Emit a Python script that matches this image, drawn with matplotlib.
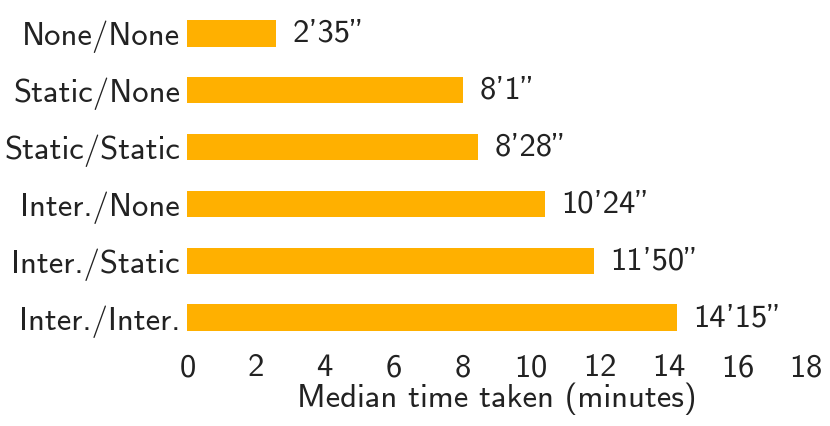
import matplotlib
matplotlib.use('Agg')
import matplotlib.pyplot as plt

categories = ['None/None', 'Static/None', 'Static/Static',
              'Inter./None', 'Inter./Static', 'Inter./Inter.']
minutes = [2, 8, 8, 10, 11, 14]
seconds = [35, 1, 28, 24, 50, 15]
x_ticks = [0, 2, 4, 6, 8, 10, 12, 14, 16, 18]

values = [m + s / 60 for m, s in zip(minutes, seconds)]
labels = [f"{m}'{s}\"" for m, s in zip(minutes, seconds)]

plt.rcParams['font.family'] = ['cmss10', 'DejaVu Sans']
plt.rcParams['axes.formatter.use_mathtext'] = True
text_color = '#222222'
fs = 23.5

fig = plt.figure(figsize=(8.3, 4.26), dpi=100)
ax = fig.add_axes([0.2253, 0.187, 0.7457, 0.802])

ypos = list(range(len(categories)))
bars = ax.barh(ypos, values, height=0.47, color='#FFB000')
for y, v, lab in zip(ypos, values, labels):
    ax.annotate(lab, (v, y), xytext=(12, 0), textcoords='offset points',
                va='center', ha='left', fontsize=fs, color=text_color)

ax.set_yticks(ypos)
ax.set_yticklabels(categories)
ax.set_ylim(len(categories) - 0.5, -0.5)
ax.set_xlim(0, 18)
ax.set_xticks(x_ticks)
ax.tick_params(length=0, labelsize=fs, colors=text_color, pad=5)
ax.set_xlabel('Median time taken (minutes)', fontsize=fs, color=text_color, labelpad=0)
for s in ax.spines.values():
    s.set_visible(False)

fig.savefig('out.png', dpi=100)
